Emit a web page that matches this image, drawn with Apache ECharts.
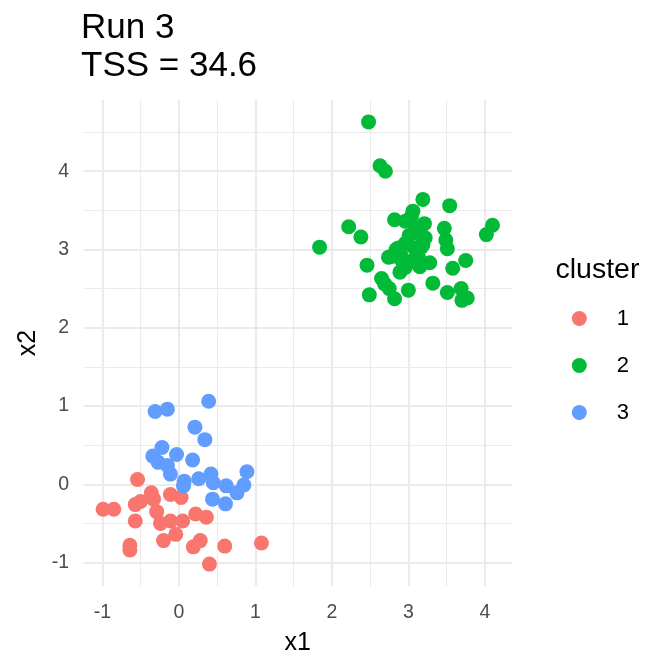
<!DOCTYPE html>
<html>
<head>
<meta charset="utf-8">
<script src="https://cdn.jsdelivr.net/npm/echarts@6/dist/echarts.min.js"></script>
<style>html,body{margin:0;padding:0;background:#fff}#c{width:672px;height:672px}</style>
</head>
<body>
<div id="c"></div>
<script>
// ---- data ----
const cluster1X = [-0.54,-0.99,-0.85,-0.57,-0.50,-0.36,-0.33,-0.29,-0.57,-0.24,-0.11,0.03,-0.11,0.05,0.22,0.36,-0.04,-0.20,-0.64,-0.64,0.19,0.28,0.60,1.08,0.40];
const cluster1Y = [0.06,-0.32,-0.32,-0.26,-0.22,-0.11,-0.19,-0.35,-0.47,-0.50,-0.13,-0.17,-0.47,-0.47,-0.38,-0.42,-0.64,-0.72,-0.78,-0.84,-0.80,-0.72,-0.79,-0.75,-1.02];

const cluster2X = [2.48,2.63,2.70,1.84,2.22,2.38,2.46,2.49,3.19,3.54,3.06,2.82,3.21,3.47,4.10,4.02,3.01,3.49,3.51,3.19,2.84,2.74,3.28,3.75,3.58,2.65,2.69,2.75,2.82,3.00,3.32,3.51,3.69,3.70,3.77,2.89,3.13,3.17,2.87,2.78,3.04,2.96,3.10,3.14,2.96,3.08,2.90,3.04,2.96,3.15,3.22,2.92];
const cluster2Y = [4.63,4.07,4.00,3.03,3.29,3.16,2.80,2.42,3.64,3.56,3.49,3.38,3.33,3.27,3.31,3.19,3.18,3.12,3.01,3.06,3.00,2.90,2.83,2.86,2.76,2.63,2.56,2.50,2.37,2.48,2.57,2.45,2.50,2.35,2.38,2.71,2.91,3.03,3.02,2.91,3.42,3.36,3.27,3.20,3.08,3.02,2.95,2.85,2.77,2.78,3.15,2.85];

const cluster3X = [-0.31,-0.15,0.39,0.21,0.34,-0.22,-0.34,-0.27,-0.03,0.18,-0.15,-0.11,0.07,0.06,0.26,0.42,0.45,0.62,0.89,0.85,0.76,0.44,0.61];
const cluster3Y = [0.93,0.96,1.06,0.73,0.57,0.47,0.36,0.28,0.38,0.31,0.24,0.13,0.04,-0.02,0.07,0.13,0.02,-0.02,0.16,-0.01,-0.11,-0.19,-0.25];

const clusterNames = ['1','2','3'];
const clusterColors = ['#F8766D','#00BA38','#619CFF'];

const xMajor = [-1,0,1,2,3,4];
const xMinor = [-0.5,0.5,1.5,2.5,3.5];
const yMajor = [-1,0,1,2,3,4];
const yMinor = [-0.5,0.5,1.5,2.5,3.5,4.5];
const xRange = [-1.245, 4.355];
const yRange = [-1.30, 4.91];

const titleText = 'Run 3\nTSS = 34.6';
const xName = 'x1', yName = 'x2', legendTitle = 'cluster';

// ---- chart ----
const FONT = '"Liberation Sans", Arial, Helvetica, sans-serif';
const zip = (xs, ys) => xs.map((v, i) => [v, ys[i]]);
const seriesData = [zip(cluster1X, cluster1Y), zip(cluster2X, cluster2Y), zip(cluster3X, cluster3Y)];

const chart = echarts.init(document.getElementById('c'), null, {renderer: 'canvas'});

const majorLine = {show: true, lineStyle: {color: '#ebebeb', width: 2.2}};
const minorLine = {show: true, lineStyle: {color: '#ebebeb', width: 1.1}};

chart.setOption({
  animation: false,
  backgroundColor: '#ffffff',
  title: {
    text: titleText, left: 81, top: 9, padding: 0,
    textStyle: {fontFamily: FONT, fontSize: 35, fontWeight: 'normal', color: '#000', lineHeight: 38}
  },
  graphic: [{
    type: 'text', left: 555.5, top: 256,
    style: {text: legendTitle, fontFamily: FONT, fontSize: 28.5, fill: '#000'}
  }],
  legend: {
    data: clusterNames, orient: 'vertical', left: 571.8, top: 307.5, padding: 0,
    itemWidth: 15, itemHeight: 15, itemGap: 25, icon: 'circle',
    textStyle: {fontFamily: FONT, fontSize: 22, color: '#000', padding: [0, 0, 0, 25]}
  },
  grid: {left: 83.6, right: 160, top: 100, bottom: 86, containLabel: false},
  xAxis: [{
    type: 'value', min: xRange[0], max: xRange[1],
    name: xName, nameLocation: 'middle', nameGap: 45,
    nameTextStyle: {fontFamily: FONT, fontSize: 25, color: '#000'},
    axisLine: {show: false}, axisTick: {show: false, customValues: xMajor},
    axisLabel: {customValues: xMajor, margin: 17, fontFamily: FONT, fontSize: 19.5, color: '#4d4d4d'},
    splitLine: majorLine
  }, {
    type: 'value', min: xRange[0], max: xRange[1], position: 'bottom',
    axisLine: {show: false}, axisTick: {show: false, customValues: xMinor},
    axisLabel: {show: false, customValues: xMinor},
    splitLine: minorLine
  }],
  yAxis: [{
    type: 'value', min: yRange[0], max: yRange[1],
    name: yName, nameLocation: 'middle', nameGap: 41,
    nameTextStyle: {fontFamily: FONT, fontSize: 25, color: '#000'},
    axisLine: {show: false}, axisTick: {show: false, customValues: yMajor},
    axisLabel: {customValues: yMajor, margin: 14.5, fontFamily: FONT, fontSize: 19.5, color: '#4d4d4d'},
    splitLine: majorLine
  }, {
    type: 'value', min: yRange[0], max: yRange[1], position: 'left',
    axisLine: {show: false}, axisTick: {show: false, customValues: yMinor},
    axisLabel: {show: false, customValues: yMinor},
    splitLine: minorLine
  }],
  series: clusterNames.map((n, i) => ({
    name: n, type: 'scatter', xAxisIndex: 0, yAxisIndex: 0,
    data: seriesData[i], symbol: 'circle', symbolSize: 15,
    itemStyle: {color: clusterColors[i], opacity: 1},
    emphasis: {disabled: true}
  }))
});
</script>
</body>
</html>
